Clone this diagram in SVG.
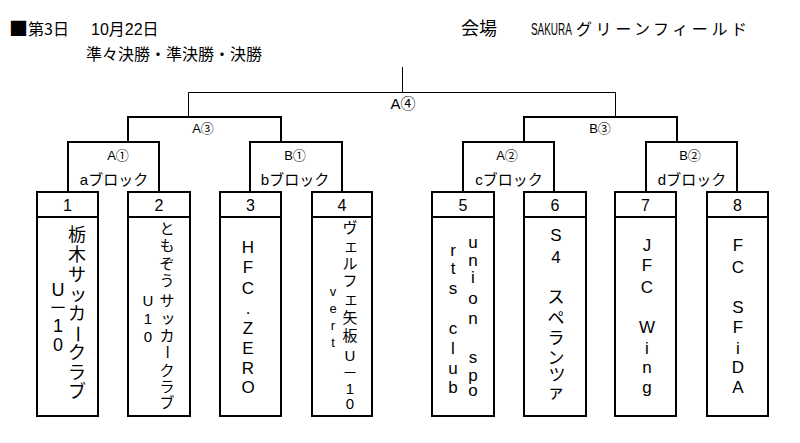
<svg xmlns="http://www.w3.org/2000/svg" width="800" height="443" viewBox="0 0 800 443">
<style>
.t{font-family:"Liberation Sans","Noto Sans CJK JP",sans-serif;fill:#000}
.h{font-family:"Noto Sans CJK JP","Liberation Sans",sans-serif;fill:#000}
.c{text-anchor:middle;dominant-baseline:central}
.thin{stroke:#000;stroke-width:1;fill:none}
.thick{stroke:#000;stroke-width:2;fill:none}
.box{fill:#fff;stroke:#000;stroke-width:2}
.lbl{font-size:13px}
.blk{font-size:15px}
.num{font-size:16px}
</style>
<rect width="800" height="443" fill="#fff"/>
<g id="header">
<text class="h" y="35" font-size="16"><tspan x="9" font-size="19" dy="1">■</tspan><tspan x="28" dy="-1">第3日</tspan></text>
<text class="t" x="91" y="35" font-size="16">10月22日</text>
<text class="t" x="86" y="60" font-size="16">準々決勝・準決勝・決勝</text>
<text class="t" x="461" y="35" font-size="18">会場</text>
<text class="t" font-size="16" transform="translate(531 35) scale(0.62 1)">SAKURA</text>
<text class="t" x="576" y="35" font-size="16" textLength="171">グリーンフィールド</text>
</g>
<g id="connectors">
<path class="thin" d="M402.5 67V92.5M188.5 117V92.5H615.5V117"/>
<path class="thick" d="M128 142V117H281V142M524 142V117H677V142"/>
<path class="thick" d="M68 192V142H159V192M250 192V142H342V192M463 192V142H554V192M646 192V142H737V192"/>
</g>
<g id="final"><text class="t c" x="403" y="103" font-size="15">A④</text></g>
<g id="semi-A3"><text class="t c lbl" x="203" y="128">A③</text></g>
<g id="semi-B3"><text class="t c lbl" x="600" y="128">B③</text></g>
<g id="block-a"><text class="t c lbl" x="118" y="155">A①</text><text class="t c blk" x="114" y="179">aブロック</text></g>
<g id="block-b"><text class="t c lbl" x="295" y="155">B①</text><text class="t c blk" x="295" y="179">bブロック</text></g>
<g id="block-c"><text class="t c lbl" x="507" y="155">A②</text><text class="t c blk" x="509" y="179">cブロック</text></g>
<g id="block-d"><text class="t c lbl" x="690" y="155">B②</text><text class="t c blk" x="692" y="179">dブロック</text></g>

<g id="team1">
<rect class="box" x="37" y="192" width="61" height="224"/><path class="thick" d="M37 217H98"/>
<text class="t c num" x="67.5" y="205">1</text>
<text class="t c" font-size="18" x="77 77 77 78 77" y="235 255 275 295 314">栃木サッカ</text>
<text class="t c" font-size="18" x="77" y="334" transform="rotate(90 77 334)">ー</text>
<text class="t c" font-size="18" x="77 77 77" y="353 373 392">クラブ</text>
<text class="t c" font-size="18" x="58 58 58 58" y="290 308 326 345">U－10</text>
</g>
<g id="team2">
<rect class="box" x="128" y="192" width="62" height="224"/><path class="thick" d="M128 217H190"/>
<text class="t c num" x="159" y="205">2</text>
<text class="t c" font-size="15" x="167 167 167 167 167 168 167" y="228 245 263 280 300 317 335">ともぞうサッカ</text>
<text class="t c" font-size="15" x="167" y="352" transform="rotate(90 167 352)">ー</text>
<text class="t c" font-size="15" x="167 167 167" y="370 386 402">クラブ</text>
<text class="t c" font-size="15" x="148 148 148" y="300 318 336">U10</text>
</g>
<g id="team3">
<rect class="box" x="220" y="192" width="61" height="224"/><path class="thick" d="M220 217H281"/>
<text class="t c num" x="250.5" y="205">3</text>
<text class="t c" font-size="17" x="248 248 248 248 248 248 248 248" y="247 267 288 308 328 348 368 387">HFC.ZERO</text>
</g>
<g id="team4">
<rect class="box" x="312" y="192" width="60" height="224"/><path class="thick" d="M312 217H372"/>
<text class="t c num" x="342" y="205">4</text>
<text class="t c" font-size="15" x="350 351 350 350 351 350 350 350 350 350 350" y="227 245 263 280 298 317 335 355 372 388 403">ヴェルフェ矢板U－10</text>
<text class="t c" font-size="13" x="333 333 333 333" y="291 308 325 342">vert</text>
</g>
<g id="team5">
<rect class="box" x="432" y="192" width="62" height="224"/><path class="thick" d="M432 217H494"/>
<text class="t c num" x="463" y="205">5</text>
<text class="t c" font-size="17" x="473 473 473 473 473 473 473 473 473" y="242 260 277 298 318 338 357 375 390">union spo</text>
<text class="t c" font-size="17" x="453 453 453 453 453 453 453 453" y="250 268 288 308 328 348 368 387">rts club</text>
</g>
<g id="team6">
<rect class="box" x="524" y="192" width="62" height="224"/><path class="thick" d="M524 217H586"/>
<text class="t c num" x="555" y="205">6</text>
<text class="t c" font-size="17" x="556 556 556 556 556 556 556 557 556" y="235 257 277 297 318 338 358 375 392">S4　スペランツァ</text>
</g>
<g id="team7">
<rect class="box" x="615" y="192" width="61" height="224"/><path class="thick" d="M615 217H676"/>
<text class="t c num" x="645.5" y="205">7</text>
<text class="t c" font-size="17" x="647 647 647 647 647 647 647 647" y="245 265 287 307 327 348 367 387">JFC Wing</text>
</g>
<g id="team8">
<rect class="box" x="707" y="192" width="61" height="224"/><path class="thick" d="M707 217H768"/>
<text class="t c num" x="737.5" y="205">8</text>
<text class="t c" font-size="17" x="738 738 738 738 738 738 738 738" y="245 267 287 307 327 348 367 387">FC SFiDA</text>
</g>
</svg>
